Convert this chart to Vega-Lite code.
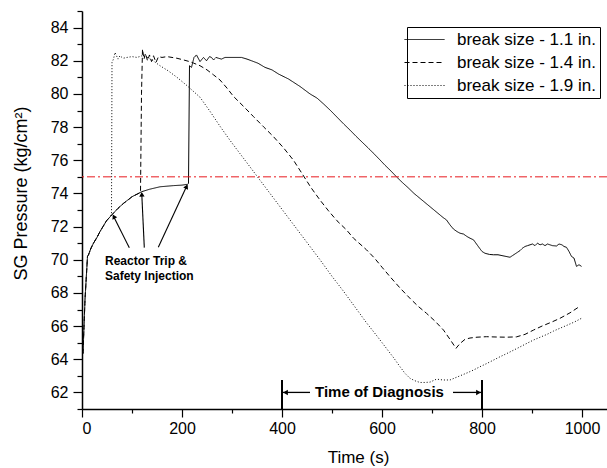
{
  "$schema": "https://vega.github.io/schema/vega-lite/v6.json",
  "width": 525,
  "height": 398,
  "autosize": {"type": "none"},
  "padding": {"left": 82, "top": 11, "right": 0, "bottom": 59},
  "background": "white",
  "config": {
    "view": {"stroke": null},
    "font": "Liberation Sans",
    "axis": {
      "domainColor": "black", "domainWidth": 1.5, "tickColor": "black", "tickWidth": 1.2,
      "labelFont": "Liberation Sans", "labelFontSize": 16, "labelColor": "black",
      "titleFont": "Liberation Sans", "titleColor": "black", "titleFontWeight": "normal",
      "grid": false, "labelOverlap": false
    }
  },
  "layer": [
    {
      "data": {"values": [
        {"series": "break size - 1.1 in.", "t": 2, "p": 64.35}, {"series": "break size - 1.1 in.", "t": 6, "p": 67.6}, {"series": "break size - 1.1 in.", "t": 11, "p": 70.2}, {"series": "break size - 1.1 in.", "t": 13, "p": 70.3}, {"series": "break size - 1.1 in.", "t": 18, "p": 70.7}, {"series": "break size - 1.1 in.", "t": 23, "p": 71.0}, {"series": "break size - 1.1 in.", "t": 30, "p": 71.35}, {"series": "break size - 1.1 in.", "t": 36, "p": 71.7}, {"series": "break size - 1.1 in.", "t": 43, "p": 72.05}, {"series": "break size - 1.1 in.", "t": 49, "p": 72.35}, {"series": "break size - 1.1 in.", "t": 55, "p": 72.55}, {"series": "break size - 1.1 in.", "t": 61, "p": 72.75}, {"series": "break size - 1.1 in.", "t": 72, "p": 73.1}, {"series": "break size - 1.1 in.", "t": 83, "p": 73.4}, {"series": "break size - 1.1 in.", "t": 100, "p": 73.8}, {"series": "break size - 1.1 in.", "t": 119, "p": 74.1}, {"series": "break size - 1.1 in.", "t": 135, "p": 74.25}, {"series": "break size - 1.1 in.", "t": 156, "p": 74.4}, {"series": "break size - 1.1 in.", "t": 183, "p": 74.47}, {"series": "break size - 1.1 in.", "t": 200, "p": 74.5}, {"series": "break size - 1.1 in.", "t": 211, "p": 74.55}, {"series": "break size - 1.1 in.", "t": 213, "p": 74.6}, {"series": "break size - 1.1 in.", "t": 215, "p": 81.7}, {"series": "break size - 1.1 in.", "t": 219, "p": 81.6}, {"series": "break size - 1.1 in.", "t": 224, "p": 82.2}, {"series": "break size - 1.1 in.", "t": 229, "p": 82.35}, {"series": "break size - 1.1 in.", "t": 236, "p": 81.95}, {"series": "break size - 1.1 in.", "t": 243, "p": 82.2}, {"series": "break size - 1.1 in.", "t": 249, "p": 82.0}, {"series": "break size - 1.1 in.", "t": 255, "p": 82.25}, {"series": "break size - 1.1 in.", "t": 259, "p": 82.2}, {"series": "break size - 1.1 in.", "t": 263, "p": 82.05}, {"series": "break size - 1.1 in.", "t": 268, "p": 82.2}, {"series": "break size - 1.1 in.", "t": 273, "p": 82.15}, {"series": "break size - 1.1 in.", "t": 279, "p": 82.1}, {"series": "break size - 1.1 in.", "t": 286, "p": 82.2}, {"series": "break size - 1.1 in.", "t": 300, "p": 82.2}, {"series": "break size - 1.1 in.", "t": 319, "p": 82.2}, {"series": "break size - 1.1 in.", "t": 330, "p": 82.1}, {"series": "break size - 1.1 in.", "t": 339, "p": 82.0}, {"series": "break size - 1.1 in.", "t": 352, "p": 81.85}, {"series": "break size - 1.1 in.", "t": 366, "p": 81.6}, {"series": "break size - 1.1 in.", "t": 380, "p": 81.45}, {"series": "break size - 1.1 in.", "t": 393, "p": 81.2}, {"series": "break size - 1.1 in.", "t": 413, "p": 80.9}, {"series": "break size - 1.1 in.", "t": 436, "p": 80.45}, {"series": "break size - 1.1 in.", "t": 456, "p": 80.0}, {"series": "break size - 1.1 in.", "t": 470, "p": 79.75}, {"series": "break size - 1.1 in.", "t": 483, "p": 79.4}, {"series": "break size - 1.1 in.", "t": 497, "p": 79.0}, {"series": "break size - 1.1 in.", "t": 510, "p": 78.6}, {"series": "break size - 1.1 in.", "t": 523, "p": 78.2}, {"series": "break size - 1.1 in.", "t": 536, "p": 77.82}, {"series": "break size - 1.1 in.", "t": 548, "p": 77.45}, {"series": "break size - 1.1 in.", "t": 560, "p": 77.1}, {"series": "break size - 1.1 in.", "t": 572, "p": 76.75}, {"series": "break size - 1.1 in.", "t": 583, "p": 76.42}, {"series": "break size - 1.1 in.", "t": 595, "p": 76.05}, {"series": "break size - 1.1 in.", "t": 606, "p": 75.7}, {"series": "break size - 1.1 in.", "t": 618, "p": 75.35}, {"series": "break size - 1.1 in.", "t": 629, "p": 75.0}, {"series": "break size - 1.1 in.", "t": 641, "p": 74.65}, {"series": "break size - 1.1 in.", "t": 652, "p": 74.35}, {"series": "break size - 1.1 in.", "t": 664, "p": 74.0}, {"series": "break size - 1.1 in.", "t": 676, "p": 73.7}, {"series": "break size - 1.1 in.", "t": 688, "p": 73.4}, {"series": "break size - 1.1 in.", "t": 700, "p": 73.1}, {"series": "break size - 1.1 in.", "t": 712, "p": 72.8}, {"series": "break size - 1.1 in.", "t": 722, "p": 72.55}, {"series": "break size - 1.1 in.", "t": 729, "p": 72.4}, {"series": "break size - 1.1 in.", "t": 736, "p": 72.1}, {"series": "break size - 1.1 in.", "t": 743, "p": 71.85}, {"series": "break size - 1.1 in.", "t": 750, "p": 71.7}, {"series": "break size - 1.1 in.", "t": 756, "p": 71.6}, {"series": "break size - 1.1 in.", "t": 763, "p": 71.55}, {"series": "break size - 1.1 in.", "t": 770, "p": 71.4}, {"series": "break size - 1.1 in.", "t": 776, "p": 71.3}, {"series": "break size - 1.1 in.", "t": 783, "p": 71.2}, {"series": "break size - 1.1 in.", "t": 789, "p": 70.95}, {"series": "break size - 1.1 in.", "t": 795, "p": 70.7}, {"series": "break size - 1.1 in.", "t": 800, "p": 70.5}, {"series": "break size - 1.1 in.", "t": 806, "p": 70.39}, {"series": "break size - 1.1 in.", "t": 815, "p": 70.32}, {"series": "break size - 1.1 in.", "t": 823, "p": 70.3}, {"series": "break size - 1.1 in.", "t": 832, "p": 70.3}, {"series": "break size - 1.1 in.", "t": 840, "p": 70.25}, {"series": "break size - 1.1 in.", "t": 848, "p": 70.2}, {"series": "break size - 1.1 in.", "t": 856, "p": 70.15}, {"series": "break size - 1.1 in.", "t": 861, "p": 70.25}, {"series": "break size - 1.1 in.", "t": 866, "p": 70.35}, {"series": "break size - 1.1 in.", "t": 871, "p": 70.45}, {"series": "break size - 1.1 in.", "t": 876, "p": 70.55}, {"series": "break size - 1.1 in.", "t": 881, "p": 70.7}, {"series": "break size - 1.1 in.", "t": 886, "p": 70.8}, {"series": "break size - 1.1 in.", "t": 891, "p": 70.85}, {"series": "break size - 1.1 in.", "t": 896, "p": 70.9}, {"series": "break size - 1.1 in.", "t": 901, "p": 70.95}, {"series": "break size - 1.1 in.", "t": 906, "p": 70.85}, {"series": "break size - 1.1 in.", "t": 911, "p": 71.0}, {"series": "break size - 1.1 in.", "t": 916, "p": 70.9}, {"series": "break size - 1.1 in.", "t": 921, "p": 70.95}, {"series": "break size - 1.1 in.", "t": 926, "p": 70.85}, {"series": "break size - 1.1 in.", "t": 931, "p": 70.95}, {"series": "break size - 1.1 in.", "t": 936, "p": 70.9}, {"series": "break size - 1.1 in.", "t": 941, "p": 70.85}, {"series": "break size - 1.1 in.", "t": 949, "p": 70.83}, {"series": "break size - 1.1 in.", "t": 954, "p": 70.95}, {"series": "break size - 1.1 in.", "t": 960, "p": 70.9}, {"series": "break size - 1.1 in.", "t": 964, "p": 70.8}, {"series": "break size - 1.1 in.", "t": 969, "p": 70.75}, {"series": "break size - 1.1 in.", "t": 974, "p": 70.5}, {"series": "break size - 1.1 in.", "t": 979, "p": 70.2}, {"series": "break size - 1.1 in.", "t": 984, "p": 70.1}, {"series": "break size - 1.1 in.", "t": 989, "p": 69.6}, {"series": "break size - 1.1 in.", "t": 994, "p": 69.7}, {"series": "break size - 1.1 in.", "t": 999, "p": 69.6},

        {"series": "break size - 1.4 in.", "t": 2, "p": 64.35}, {"series": "break size - 1.4 in.", "t": 6, "p": 67.6}, {"series": "break size - 1.4 in.", "t": 11, "p": 70.2}, {"series": "break size - 1.4 in.", "t": 13, "p": 70.3}, {"series": "break size - 1.4 in.", "t": 18, "p": 70.7}, {"series": "break size - 1.4 in.", "t": 23, "p": 71.0}, {"series": "break size - 1.4 in.", "t": 30, "p": 71.35}, {"series": "break size - 1.4 in.", "t": 36, "p": 71.7}, {"series": "break size - 1.4 in.", "t": 43, "p": 72.05}, {"series": "break size - 1.4 in.", "t": 49, "p": 72.35}, {"series": "break size - 1.4 in.", "t": 55, "p": 72.55}, {"series": "break size - 1.4 in.", "t": 61, "p": 72.75}, {"series": "break size - 1.4 in.", "t": 72, "p": 73.1}, {"series": "break size - 1.4 in.", "t": 83, "p": 73.4}, {"series": "break size - 1.4 in.", "t": 92, "p": 73.6}, {"series": "break size - 1.4 in.", "t": 100, "p": 73.8}, {"series": "break size - 1.4 in.", "t": 110, "p": 73.95}, {"series": "break size - 1.4 in.", "t": 117, "p": 74.05}, {"series": "break size - 1.4 in.", "t": 119, "p": 80.0}, {"series": "break size - 1.4 in.", "t": 121, "p": 82.7}, {"series": "break size - 1.4 in.", "t": 124, "p": 82.1}, {"series": "break size - 1.4 in.", "t": 127, "p": 82.45}, {"series": "break size - 1.4 in.", "t": 131, "p": 82.0}, {"series": "break size - 1.4 in.", "t": 135, "p": 82.35}, {"series": "break size - 1.4 in.", "t": 139, "p": 81.95}, {"series": "break size - 1.4 in.", "t": 143, "p": 82.3}, {"series": "break size - 1.4 in.", "t": 148, "p": 81.9}, {"series": "break size - 1.4 in.", "t": 153, "p": 82.25}, {"series": "break size - 1.4 in.", "t": 160, "p": 82.2}, {"series": "break size - 1.4 in.", "t": 170, "p": 82.25}, {"series": "break size - 1.4 in.", "t": 180, "p": 82.2}, {"series": "break size - 1.4 in.", "t": 190, "p": 82.15}, {"series": "break size - 1.4 in.", "t": 203, "p": 82.05}, {"series": "break size - 1.4 in.", "t": 215, "p": 81.95}, {"series": "break size - 1.4 in.", "t": 223, "p": 81.86}, {"series": "break size - 1.4 in.", "t": 236, "p": 81.7}, {"series": "break size - 1.4 in.", "t": 250, "p": 81.45}, {"series": "break size - 1.4 in.", "t": 263, "p": 81.15}, {"series": "break size - 1.4 in.", "t": 276, "p": 80.84}, {"series": "break size - 1.4 in.", "t": 290, "p": 80.35}, {"series": "break size - 1.4 in.", "t": 303, "p": 79.85}, {"series": "break size - 1.4 in.", "t": 323, "p": 79.25}, {"series": "break size - 1.4 in.", "t": 343, "p": 78.63}, {"series": "break size - 1.4 in.", "t": 363, "p": 78.02}, {"series": "break size - 1.4 in.", "t": 383, "p": 77.42}, {"series": "break size - 1.4 in.", "t": 403, "p": 76.75}, {"series": "break size - 1.4 in.", "t": 423, "p": 76.0}, {"series": "break size - 1.4 in.", "t": 440, "p": 75.2}, {"series": "break size - 1.4 in.", "t": 458, "p": 74.35}, {"series": "break size - 1.4 in.", "t": 476, "p": 73.6}, {"series": "break size - 1.4 in.", "t": 493, "p": 72.95}, {"series": "break size - 1.4 in.", "t": 510, "p": 72.35}, {"series": "break size - 1.4 in.", "t": 529, "p": 71.8}, {"series": "break size - 1.4 in.", "t": 543, "p": 71.3}, {"series": "break size - 1.4 in.", "t": 556, "p": 70.95}, {"series": "break size - 1.4 in.", "t": 569, "p": 70.6}, {"series": "break size - 1.4 in.", "t": 585, "p": 70.1}, {"series": "break size - 1.4 in.", "t": 600, "p": 69.55}, {"series": "break size - 1.4 in.", "t": 616, "p": 68.98}, {"series": "break size - 1.4 in.", "t": 636, "p": 68.3}, {"series": "break size - 1.4 in.", "t": 656, "p": 67.67}, {"series": "break size - 1.4 in.", "t": 672, "p": 67.2}, {"series": "break size - 1.4 in.", "t": 689, "p": 66.77}, {"series": "break size - 1.4 in.", "t": 706, "p": 66.3}, {"series": "break size - 1.4 in.", "t": 723, "p": 65.76}, {"series": "break size - 1.4 in.", "t": 736, "p": 65.2}, {"series": "break size - 1.4 in.", "t": 748, "p": 64.66}, {"series": "break size - 1.4 in.", "t": 756, "p": 64.95}, {"series": "break size - 1.4 in.", "t": 766, "p": 65.2}, {"series": "break size - 1.4 in.", "t": 776, "p": 65.28}, {"series": "break size - 1.4 in.", "t": 790, "p": 65.33}, {"series": "break size - 1.4 in.", "t": 809, "p": 65.36}, {"series": "break size - 1.4 in.", "t": 830, "p": 65.34}, {"series": "break size - 1.4 in.", "t": 850, "p": 65.33}, {"series": "break size - 1.4 in.", "t": 869, "p": 65.35}, {"series": "break size - 1.4 in.", "t": 886, "p": 65.5}, {"series": "break size - 1.4 in.", "t": 903, "p": 65.76}, {"series": "break size - 1.4 in.", "t": 920, "p": 66.0}, {"series": "break size - 1.4 in.", "t": 940, "p": 66.25}, {"series": "break size - 1.4 in.", "t": 956, "p": 66.47}, {"series": "break size - 1.4 in.", "t": 976, "p": 66.8}, {"series": "break size - 1.4 in.", "t": 996, "p": 67.2},

        {"series": "break size - 1.9 in.", "t": 2, "p": 64.35}, {"series": "break size - 1.9 in.", "t": 6, "p": 67.6}, {"series": "break size - 1.9 in.", "t": 11, "p": 70.2}, {"series": "break size - 1.9 in.", "t": 13, "p": 70.3}, {"series": "break size - 1.9 in.", "t": 18, "p": 70.7}, {"series": "break size - 1.9 in.", "t": 23, "p": 71.0}, {"series": "break size - 1.9 in.", "t": 30, "p": 71.35}, {"series": "break size - 1.9 in.", "t": 36, "p": 71.7}, {"series": "break size - 1.9 in.", "t": 43, "p": 72.05}, {"series": "break size - 1.9 in.", "t": 49, "p": 72.35}, {"series": "break size - 1.9 in.", "t": 55, "p": 72.55}, {"series": "break size - 1.9 in.", "t": 59, "p": 72.72}, {"series": "break size - 1.9 in.", "t": 60, "p": 81.9}, {"series": "break size - 1.9 in.", "t": 63, "p": 82.1}, {"series": "break size - 1.9 in.", "t": 66, "p": 82.5}, {"series": "break size - 1.9 in.", "t": 69, "p": 82.3}, {"series": "break size - 1.9 in.", "t": 72, "p": 82.1}, {"series": "break size - 1.9 in.", "t": 76, "p": 82.3}, {"series": "break size - 1.9 in.", "t": 82, "p": 82.15}, {"series": "break size - 1.9 in.", "t": 90, "p": 82.2}, {"series": "break size - 1.9 in.", "t": 100, "p": 82.25}, {"series": "break size - 1.9 in.", "t": 110, "p": 82.2}, {"series": "break size - 1.9 in.", "t": 120, "p": 82.3}, {"series": "break size - 1.9 in.", "t": 130, "p": 82.2}, {"series": "break size - 1.9 in.", "t": 140, "p": 82.05}, {"series": "break size - 1.9 in.", "t": 156, "p": 81.7}, {"series": "break size - 1.9 in.", "t": 172, "p": 81.4}, {"series": "break size - 1.9 in.", "t": 190, "p": 81.0}, {"series": "break size - 1.9 in.", "t": 210, "p": 80.5}, {"series": "break size - 1.9 in.", "t": 236, "p": 79.8}, {"series": "break size - 1.9 in.", "t": 256, "p": 78.95}, {"series": "break size - 1.9 in.", "t": 276, "p": 78.05}, {"series": "break size - 1.9 in.", "t": 296, "p": 77.2}, {"series": "break size - 1.9 in.", "t": 316, "p": 76.4}, {"series": "break size - 1.9 in.", "t": 336, "p": 75.6}, {"series": "break size - 1.9 in.", "t": 356, "p": 74.8}, {"series": "break size - 1.9 in.", "t": 376, "p": 74.0}, {"series": "break size - 1.9 in.", "t": 396, "p": 73.2}, {"series": "break size - 1.9 in.", "t": 416, "p": 72.4}, {"series": "break size - 1.9 in.", "t": 436, "p": 71.6}, {"series": "break size - 1.9 in.", "t": 456, "p": 70.8}, {"series": "break size - 1.9 in.", "t": 476, "p": 70.0}, {"series": "break size - 1.9 in.", "t": 500, "p": 69.0}, {"series": "break size - 1.9 in.", "t": 523, "p": 68.1}, {"series": "break size - 1.9 in.", "t": 546, "p": 67.15}, {"series": "break size - 1.9 in.", "t": 569, "p": 66.2}, {"series": "break size - 1.9 in.", "t": 590, "p": 65.4}, {"series": "break size - 1.9 in.", "t": 609, "p": 64.65}, {"series": "break size - 1.9 in.", "t": 623, "p": 64.1}, {"series": "break size - 1.9 in.", "t": 636, "p": 63.55}, {"series": "break size - 1.9 in.", "t": 646, "p": 63.15}, {"series": "break size - 1.9 in.", "t": 656, "p": 62.85}, {"series": "break size - 1.9 in.", "t": 666, "p": 62.7}, {"series": "break size - 1.9 in.", "t": 676, "p": 62.6}, {"series": "break size - 1.9 in.", "t": 686, "p": 62.6}, {"series": "break size - 1.9 in.", "t": 696, "p": 62.62}, {"series": "break size - 1.9 in.", "t": 709, "p": 62.8}, {"series": "break size - 1.9 in.", "t": 722, "p": 62.75}, {"series": "break size - 1.9 in.", "t": 736, "p": 62.75}, {"series": "break size - 1.9 in.", "t": 748, "p": 62.9}, {"series": "break size - 1.9 in.", "t": 760, "p": 63.05}, {"series": "break size - 1.9 in.", "t": 772, "p": 63.2}, {"series": "break size - 1.9 in.", "t": 783, "p": 63.35}, {"series": "break size - 1.9 in.", "t": 796, "p": 63.55}, {"series": "break size - 1.9 in.", "t": 810, "p": 63.75}, {"series": "break size - 1.9 in.", "t": 823, "p": 63.95}, {"series": "break size - 1.9 in.", "t": 836, "p": 64.15}, {"series": "break size - 1.9 in.", "t": 850, "p": 64.35}, {"series": "break size - 1.9 in.", "t": 870, "p": 64.65}, {"series": "break size - 1.9 in.", "t": 886, "p": 64.9}, {"series": "break size - 1.9 in.", "t": 903, "p": 65.16}, {"series": "break size - 1.9 in.", "t": 918, "p": 65.35}, {"series": "break size - 1.9 in.", "t": 930, "p": 65.5}, {"series": "break size - 1.9 in.", "t": 943, "p": 65.7}, {"series": "break size - 1.9 in.", "t": 956, "p": 65.87}, {"series": "break size - 1.9 in.", "t": 970, "p": 66.05}, {"series": "break size - 1.9 in.", "t": 985, "p": 66.25}, {"series": "break size - 1.9 in.", "t": 999, "p": 66.47}
      ]},
      "mark": {"type": "line", "color": "black", "strokeWidth": 1},
      "encoding": {
        "x": {
          "field": "t", "type": "quantitative",
          "scale": {"domain": [0, 1050], "nice": false, "zero": false},
          "axis": {
            "values": [0, 100, 200, 300, 400, 500, 600, 700, 800, 900, 1000],
            "tickCount": 30,
            "format": "d",
            "labelExpr": "datum.value % 200 === 0 ? datum.label : ''",
            "tickSize": {"condition": {"test": "datum.value % 200 === 0", "value": 8}, "value": 4},
            "labelPadding": 3, "labelOverlap": false,
            "title": "Time (s)", "titleFontSize": 17,
            "titleX": 276, "titleY": 53, "titleAlign": "center", "titleBaseline": "alphabetic"
          }
        },
        "y": {
          "field": "p", "type": "quantitative",
          "scale": {"domain": [61, 85], "nice": false, "zero": false},
          "axis": {
            "values": [61, 62, 63, 64, 65, 66, 67, 68, 69, 70, 71, 72, 73, 74, 75, 76, 77, 78, 79, 80, 81, 82, 83, 84, 85],
            "tickCount": 30,
            "labelExpr": "datum.value % 2 === 0 ? datum.label : ''",
            "tickSize": {"condition": {"test": "datum.value % 2 === 0", "value": 9}, "value": 5},
            "labelPadding": 5, "labelOverlap": false,
            "title": "SG Pressure (kg/cm²)", "titleFontSize": 18,
            "titleX": -56, "titleY": 182, "titleAngle": -90, "titleAlign": "center", "titleBaseline": "alphabetic"
          }
        },
        "strokeDash": {
          "field": "series", "type": "nominal",
          "scale": {"domain": ["break size - 1.1 in.", "break size - 1.4 in.", "break size - 1.9 in."], "range": [[1, 0], [5, 3], [1, 2]]},
          "legend": {
            "title": null, "orient": "none", "legendX": 325, "legendY": 16,
            "strokeColor": "black", "fillColor": "white", "padding": 4,
            "rowPadding": 5, "labelFontSize": 17, "labelFont": "Liberation Sans", "labelColor": "black",
            "symbolType": "M-15,0H25", "symbolSize": 4, "symbolStrokeColor": "black", "symbolStrokeWidth": 1,
            "labelOffset": 29, "labelLimit": 300
          }
        }
      }
    },
    {
      "data": {"values": [{"t": 0, "p": 75}]},
      "mark": {"type": "rule", "color": "#e8191e", "strokeWidth": 1, "strokeDash": [8, 3, 2, 3]},
      "encoding": {"y": {"field": "p", "type": "quantitative"}}
    },
    {
      "data": {"values": [{"t": 400, "p": 61, "p2": 62.75}, {"t": 800, "p": 61, "p2": 62.75}]},
      "mark": {"type": "rule", "color": "black", "strokeWidth": 2},
      "encoding": {
        "x": {"field": "t", "type": "quantitative"},
        "y": {"field": "p", "type": "quantitative"},
        "y2": {"field": "p2"}
      }
    },
    {
      "data": {"values": [{"t": 400, "t2": 456, "p": 62.0}, {"t": 742, "t2": 800, "p": 62.0}]},
      "mark": {"type": "rule", "color": "black", "strokeWidth": 1.3},
      "encoding": {
        "x": {"field": "t", "type": "quantitative"},
        "x2": {"field": "t2"},
        "y": {"field": "p", "type": "quantitative"}
      }
    },
    {
      "data": {"values": [{"t": 407, "p": 62.0}]},
      "mark": {"type": "point", "shape": "triangle-left", "filled": true, "color": "black", "size": 30, "opacity": 1},
      "encoding": {
        "x": {"field": "t", "type": "quantitative"},
        "y": {"field": "p", "type": "quantitative"}
      }
    },
    {
      "data": {"values": [{"t": 793, "p": 62.0}]},
      "mark": {"type": "point", "shape": "triangle-right", "filled": true, "color": "black", "size": 30, "opacity": 1},
      "encoding": {
        "x": {"field": "t", "type": "quantitative"},
        "y": {"field": "p", "type": "quantitative"}
      }
    },
    {
      "data": {"values": [{"t": 595, "p": 62.0, "label": "Time of Diagnosis"}]},
      "mark": {"type": "text", "font": "Liberation Sans", "fontWeight": "bold", "fontSize": 15, "color": "black", "align": "center", "baseline": "middle"},
      "encoding": {
        "x": {"field": "t", "type": "quantitative"},
        "y": {"field": "p", "type": "quantitative"},
        "text": {"field": "label"}
      }
    },
    {
      "data": {"values": [{"t": 46, "p": 69.95, "label": "Reactor Trip &"}, {"t": 46, "p": 69.05, "label": "Safety Injection"}]},
      "mark": {"type": "text", "font": "Liberation Sans", "fontWeight": "bold", "fontSize": 12, "color": "black", "align": "left", "baseline": "middle"},
      "encoding": {
        "x": {"field": "t", "type": "quantitative"},
        "y": {"field": "p", "type": "quantitative"},
        "text": {"field": "label"}
      }
    },
    {
      "data": {"values": [
        {"t": 94.6, "p": 70.73, "t2": 62.5, "p2": 72.65},
        {"t": 124.6, "p": 70.73, "t2": 119.5, "p2": 74.0},
        {"t": 152.6, "p": 70.75, "t2": 210.0, "p2": 74.48}
      ]},
      "mark": {"type": "rule", "color": "black", "strokeWidth": 1.1},
      "encoding": {
        "x": {"field": "t", "type": "quantitative"},
        "y": {"field": "p", "type": "quantitative"},
        "x2": {"field": "t2"},
        "y2": {"field": "p2"}
      }
    },
    {
      "data": {"values": [{"t": 63.6, "p": 72.61}]},
      "mark": {"type": "point", "shape": "triangle-up", "filled": true, "color": "black", "size": 28, "opacity": 1, "angle": 333.6},
      "encoding": {
        "x": {"field": "t", "type": "quantitative"},
        "y": {"field": "p", "type": "quantitative"}
      }
    },
    {
      "data": {"values": [{"t": 119.6, "p": 73.95}]},
      "mark": {"type": "point", "shape": "triangle-up", "filled": true, "color": "black", "size": 28, "opacity": 1, "angle": 357.3},
      "encoding": {
        "x": {"field": "t", "type": "quantitative"},
        "y": {"field": "p", "type": "quantitative"}
      }
    },
    {
      "data": {"values": [{"t": 209.2, "p": 74.41}]},
      "mark": {"type": "point", "shape": "triangle-up", "filled": true, "color": "black", "size": 28, "opacity": 1, "angle": 25},
      "encoding": {
        "x": {"field": "t", "type": "quantitative"},
        "y": {"field": "p", "type": "quantitative"}
      }
    }
  ]
}
